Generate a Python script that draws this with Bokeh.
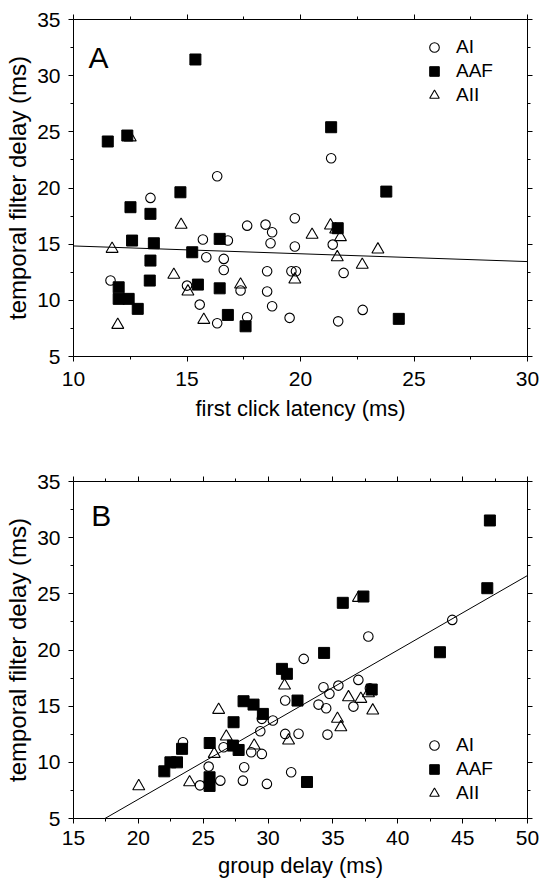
import numpy as np
from bokeh.plotting import figure
from bokeh.models import (LinearAxis, Range1d, Legend, LegendItem, Label,
                          FixedTicker, CustomJSTickFormatter)
from bokeh.layouts import column
from bokeh.embed import file_html
from bokeh.resources import INLINE

FONT = "Liberation Sans"

# ---------------- Panel A: first click latency vs temporal filter delay ----------------
a_ai_x = [13.39, 16.33, 21.35, 11.63, 15.70, 16.80, 15.85, 16.62, 16.62, 15.00,
          17.36, 15.56, 16.33, 17.65, 17.65, 18.46, 18.75, 18.68, 19.75, 19.75,
          18.53, 18.53, 18.75, 19.60, 19.80, 19.52, 21.42, 21.90, 21.66, 22.74]
a_ai_y = [19.12, 21.05, 22.65, 11.76, 15.41, 15.32, 13.83, 13.69, 12.70, 11.31,
          10.87, 9.62, 7.96, 8.50, 16.65, 16.74, 16.06, 15.08, 17.31, 14.79,
          12.59, 10.78, 9.47, 12.59, 12.59, 8.44, 14.96, 12.44, 8.13, 9.15]

a_aaf_x = [11.51, 12.37, 15.37, 12.51, 14.71, 13.39, 12.58, 13.54, 13.39, 15.23,
           16.44, 13.36, 15.48, 16.44, 11.99, 11.99, 12.43, 12.83, 16.80, 17.58,
           21.35, 21.64, 23.78, 24.33]
a_aaf_y = [24.14, 24.67, 31.44, 18.29, 19.62, 17.70, 15.32, 15.08, 13.54, 14.28,
           15.47, 11.76, 11.40, 11.07, 11.16, 10.13, 10.13, 9.24, 8.70, 7.69,
           25.41, 16.42, 19.68, 8.35]

a_aii_x = [12.50, 11.70, 11.95, 14.74, 14.42, 15.04, 15.74, 17.36, 19.75, 20.51,
           21.32, 21.76, 21.62, 23.41, 22.72, 21.55]
a_aii_y = [24.50, 14.58, 7.81, 16.72, 12.27, 10.78, 8.26, 11.40, 11.85, 15.83,
           16.66, 15.62, 13.83, 14.52, 13.16, 16.30]

a_fit_slope = -0.0695
a_fit_intercept = 15.535

# ---------------- Panel B: group delay vs temporal filter delay ----------------
b_ai_x = [44.20, 37.73, 32.75, 36.96, 35.42, 34.27, 34.73, 31.32, 33.89, 34.48,
          36.58, 30.37, 29.52, 29.40, 31.32, 32.35, 34.58, 23.44, 26.57, 28.70,
          29.52, 25.42, 28.16, 31.78, 24.75, 26.32, 28.06, 29.91, 37.85]
b_ai_y = [22.68, 21.20, 19.21, 17.34, 16.83, 16.68, 16.10, 15.50, 15.14, 14.81,
          14.96, 13.72, 13.87, 12.77, 12.53, 12.55, 12.47, 11.79, 11.34, 10.90,
          10.75, 9.62, 9.56, 9.12, 7.95, 8.37, 8.37, 8.08, 16.60]

b_aaf_x = [47.10, 46.90, 35.76, 37.35, 43.25, 34.32, 31.07, 31.45, 37.99, 28.11,
           28.88, 29.60, 32.27, 27.34, 25.50, 27.29, 27.73, 23.37, 22.47, 22.98,
           22.00, 25.49, 25.49, 33.00]
b_aaf_y = [31.53, 25.50, 24.20, 24.76, 19.80, 19.74, 18.32, 17.88, 16.48, 15.44,
           15.14, 14.31, 15.50, 13.57, 11.72, 11.49, 11.10, 11.20, 10.00, 10.00,
           9.20, 8.67, 7.90, 8.25]

b_aii_x = [36.97, 20.03, 23.95, 26.19, 26.78, 25.85, 28.93, 31.27, 31.58, 36.20,
           37.15, 37.74, 38.07, 35.35, 35.61]
b_aii_y = [24.64, 7.87, 8.22, 14.67, 12.29, 10.75, 11.49, 16.83, 11.94, 15.79,
           15.65, 16.15, 14.61, 13.87, 13.12]

b_fit_slope = 0.664
b_fit_intercept = -6.57

# ---------------- ticks ----------------
a_x_major = [10, 15, 20, 25, 30]
a_x_minor = [12.5, 17.5, 22.5, 27.5]
b_x_major = [15, 20, 25, 30, 35, 40, 45, 50]
b_x_minor = [17.5, 22.5, 27.5, 32.5, 37.5, 42.5, 47.5]
y_major = [5, 10, 15, 20, 25, 30, 35]
y_minor = [7.5, 12.5, 17.5, 22.5, 27.5, 32.5]

legend_labels = ["AI", "AAF", "AII"]
y_label = "temporal filter delay (ms)"


def style_axis(ax, show_labels):
    ax.axis_line_color = "black"
    ax.axis_line_width = 1
    ax.major_tick_line_color = "black"
    ax.minor_tick_line_color = "black"
    ax.major_tick_in = 0
    ax.major_tick_out = 5
    ax.minor_tick_in = 0
    ax.minor_tick_out = 3
    if show_labels:
        ax.major_label_text_font = FONT
        ax.major_label_text_font_size = "21px"
        ax.major_label_text_color = "black"
    else:
        ax.formatter = CustomJSTickFormatter(code="return ''")
        ax.major_label_text_font_size = "6px"
        ax.major_label_standoff = 0


def build(x_range, x_major, x_minor, ai, aaf, aii, fit, xlabel, letter,
          letter_xy, legend_loc, height, bottom_border, tick_standoff, label_standoff):
    p = figure(width=544, height=height,
               x_range=Range1d(*x_range), y_range=Range1d(5, 35),
               output_backend="svg", toolbar_location=None,
               min_border_left=73, min_border_right=17,
               min_border_top=19, min_border_bottom=bottom_border)
    p.xgrid.visible = False
    p.ygrid.visible = False
    p.outline_line_color = None
    p.background_fill_color = "white"
    p.border_fill_color = "white"

    p.xaxis.ticker = FixedTicker(ticks=x_major, minor_ticks=x_minor)
    p.yaxis.ticker = FixedTicker(ticks=y_major, minor_ticks=y_minor)
    for ax in p.xaxis + p.yaxis:
        style_axis(ax, True)
    p.xaxis.axis_label = xlabel
    p.yaxis.axis_label = y_label
    for ax, size in ((p.xaxis[0], "22px"), (p.yaxis[0], "24px")):
        ax.axis_label_text_font = FONT
        ax.axis_label_text_font_size = size
        ax.axis_label_text_font_style = "normal"
        ax.axis_label_text_color = "black"
    p.xaxis.major_label_standoff = tick_standoff
    p.xaxis.axis_label_standoff = label_standoff
    p.yaxis.major_label_standoff = 8
    p.yaxis.axis_label_standoff = 3

    top = LinearAxis(ticker=FixedTicker(ticks=x_major, minor_ticks=x_minor))
    right = LinearAxis(ticker=FixedTicker(ticks=y_major, minor_ticks=y_minor))
    style_axis(top, False)
    style_axis(right, False)
    p.add_layout(top, "above")
    p.add_layout(right, "right")

    slope, intercept = fit
    lx = np.array(x_range, dtype=float)
    p.line(lx, slope * lx + intercept, line_color="black", line_width=1)

    r_ai = p.scatter(ai[0], ai[1], marker="circle", size=9.5, fill_color=None,
                     line_color="black", line_width=1.1)
    r_aii = p.scatter(aii[0], aii[1], marker="triangle", size=12, fill_color=None,
                      line_color="black", line_width=1.1)
    r_aaf = p.scatter(aaf[0], aaf[1], marker="square", size=11, fill_color="black",
                      line_color="black", line_width=1)

    legend = Legend(items=[LegendItem(label=legend_labels[0], renderers=[r_ai]),
                           LegendItem(label=legend_labels[1], renderers=[r_aaf]),
                           LegendItem(label=legend_labels[2], renderers=[r_aii])],
                    location=legend_loc, orientation="vertical",
                    glyph_width=24, glyph_height=24, label_height=24,
                    spacing=0, padding=0, margin=0, label_standoff=10,
                    label_text_font=FONT, label_text_font_size="19px",
                    label_text_color="black",
                    border_line_color=None, background_fill_alpha=0)
    p.add_layout(legend)

    p.add_layout(Label(x=letter_xy[0], y=letter_xy[1], text=letter,
                       text_font=FONT, text_font_size="30px", text_color="black",
                       text_baseline="alphabetic", text_align="left"))
    return p


pA = build((10, 30), a_x_major, a_x_minor, (a_ai_x, a_ai_y), (a_aaf_x, a_aaf_y),
           (a_aii_x, a_aii_y), (a_fit_slope, a_fit_intercept),
           "first click latency (ms)", "A", (10.66, 31.65), (349, 249),
           462, 106, 10, 7)
pB = build((15, 50), b_x_major, b_x_minor, (b_ai_x, b_ai_y), (b_aaf_x, b_aaf_y),
           (b_aii_x, b_aii_y), (b_fit_slope, b_fit_intercept),
           "group delay (ms)", "B", (16.37, 31.97), (349, 13),
           421, 65, 7, 5)

layout = column(pA, pB, spacing=0)
open("out.html", "w").write(file_html(layout, INLINE))
